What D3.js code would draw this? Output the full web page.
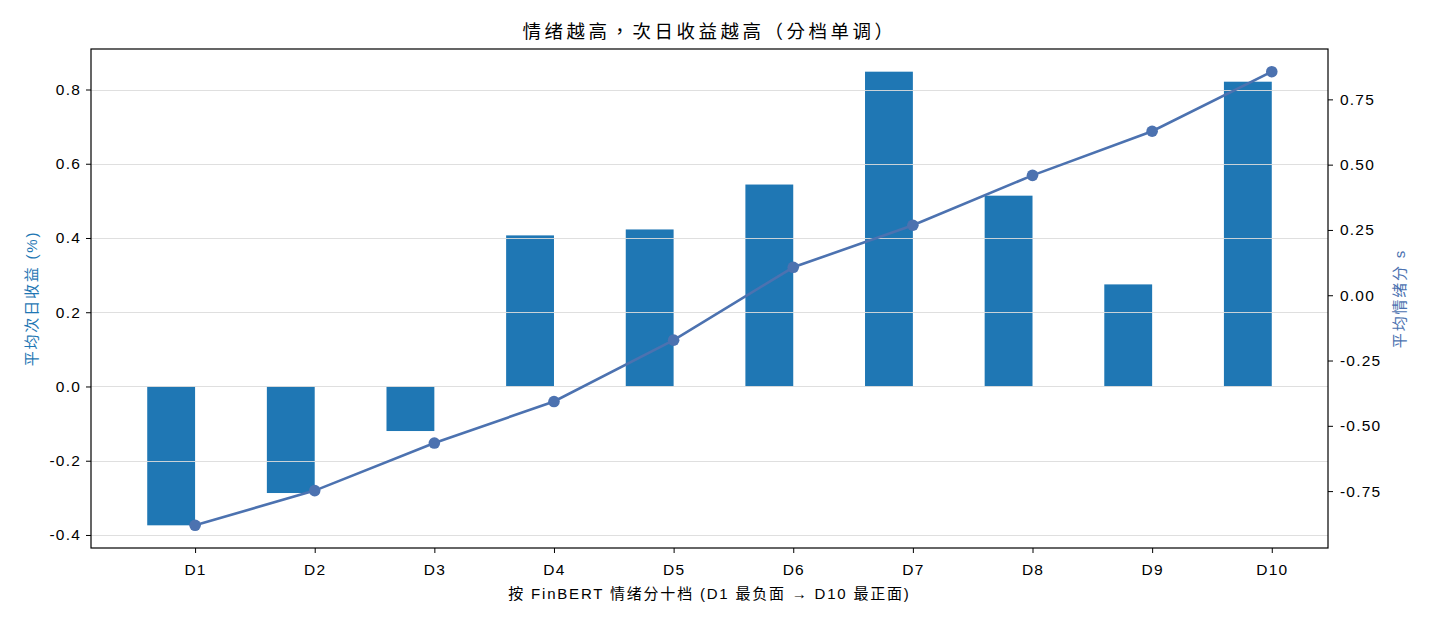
<!DOCTYPE html>
<html><head><meta charset="utf-8">
<script src="https://cdn.jsdelivr.net/npm/d3@7"></script>
<style>
body{margin:0;background:#fff;}
text{font-family:"Liberation Sans","Noto Sans CJK SC",sans-serif;}
</style></head>
<body><svg id="c" width="1430" height="624"></svg>
<script>
const categories = ["D1","D2","D3","D4","D5","D6","D7","D8","D9","D10"];
const avgReturn = [-0.374,-0.287,-0.120,0.407,0.423,0.544,0.848,0.514,0.275,0.821];
const avgSentiment = [-0.881,-0.748,-0.566,-0.407,-0.172,0.107,0.268,0.459,0.628,0.856];
const leftTicks = [-0.4,-0.2,0.0,0.2,0.4,0.6,0.8];
const rightTicks = [-0.75,-0.5,-0.25,0,0.25,0.5,0.75];

const svg = d3.select("#c");
const L=91, R=1328, T=49, B=548;
const font = '"Liberation Sans","Noto Sans CJK SC",sans-serif';

const n = categories.length;
const x = d3.scaleLinear().domain([-0.4-0.47, (n-1)+0.47]).range([L,R]);
function pad(lo,hi){const r=hi-lo;return [lo-0.05*r,hi+0.05*r];}
const lr = pad(Math.min(0,d3.min(avgReturn)), Math.max(0,d3.max(avgReturn)));
const yL = d3.scaleLinear().domain(lr).range([B,T]);
const sr = pad(d3.min(avgSentiment), d3.max(avgSentiment));
const yR = d3.scaleLinear().domain(sr).range([B,T]);

// bars
svg.append("g").selectAll("rect").data(avgReturn).join("rect")
  .attr("x",(d,i)=>x(i-0.4)).attr("width",x(0)-x(-0.4))
  .attr("y",d=>yL(Math.max(0,d))).attr("height",d=>Math.abs(yL(d)-yL(0)))
  .attr("fill","#1f77b4");

// grid
svg.append("g").selectAll("line").data(leftTicks).join("line")
  .attr("x1",L).attr("x2",R).attr("y1",d=>Math.round(yL(d))+0.5).attr("y2",d=>Math.round(yL(d))+0.5)
  .attr("stroke","#dcdcdc").attr("stroke-width",1).attr("opacity",0.9);

// axes
const fmtL = d=>d3.format(".1f")(d).replace("−","-");
const fmtR = d=>d3.format(".2f")(d).replace("−","-");
const gL = svg.append("g").attr("transform",`translate(${L},0)`)
  .call(d3.axisLeft(yL).tickValues(leftTicks).tickFormat(fmtL).tickSize(5).tickPadding(5));
const gR = svg.append("g").attr("transform",`translate(${R},0)`)
  .call(d3.axisRight(yR).tickValues(rightTicks).tickFormat(fmtR).tickSize(5).tickPadding(7));
const gX = svg.append("g").attr("transform",`translate(0,${B})`)
  .call(d3.axisBottom(x).tickValues(d3.range(n)).tickFormat(i=>categories[i]).tickSize(5).tickPadding(11));
[gL,gR,gX].forEach(g=>{
  g.select(".domain").remove();
  g.selectAll("text").attr("font-size",15.5).attr("letter-spacing",1.2).attr("fill","#000").style("font-family",font);
  g.selectAll("line").attr("stroke","#000");
});
// frame
svg.append("rect").attr("x",L).attr("y",T).attr("width",R-L).attr("height",B-T)
  .attr("fill","none").attr("stroke","#000").attr("stroke-width",1.2);

// line
svg.append("path").datum(avgSentiment)
  .attr("d",d3.line().x((d,i)=>x(i)).y(d=>yR(d)))
  .attr("fill","none").attr("stroke","#4c72b0").attr("stroke-width",2.6);
svg.append("g").selectAll("circle").data(avgSentiment).join("circle")
  .attr("cx",(d,i)=>x(i)).attr("cy",d=>yR(d)).attr("r",5.8).attr("fill","#4c72b0");

// titles
svg.append("text").attr("x",(L+R)/2).attr("y",38).attr("text-anchor","middle")
  .attr("font-size",18.5).attr("letter-spacing",3.5).attr("lang","zh-Hant")
  .style("font-family",'"Noto Sans CJK TC","Noto Sans CJK SC",sans-serif')
  .text("情绪越高，次日收益越高（分档单调）");
svg.append("text").attr("x",(L+R)/2).attr("y",599).attr("text-anchor","middle")
  .attr("font-size",15).attr("letter-spacing",1.8).text("按 FinBERT 情绪分十档 (D1 最负面 → D10 最正面)");
svg.append("text").attr("transform",`translate(37,${(T+B)/2}) rotate(-90)`).attr("text-anchor","middle")
  .attr("font-size",15).attr("letter-spacing",1.8).attr("fill","#1f77b4").text("平均次日收益 (%)");
svg.append("text").attr("transform",`translate(1405,${(T+B)/2}) rotate(-90)`).attr("text-anchor","middle")
  .attr("font-size",15).attr("letter-spacing",1.8).attr("fill","#4c72b0").text("平均情绪分 s");
</script></body></html>
